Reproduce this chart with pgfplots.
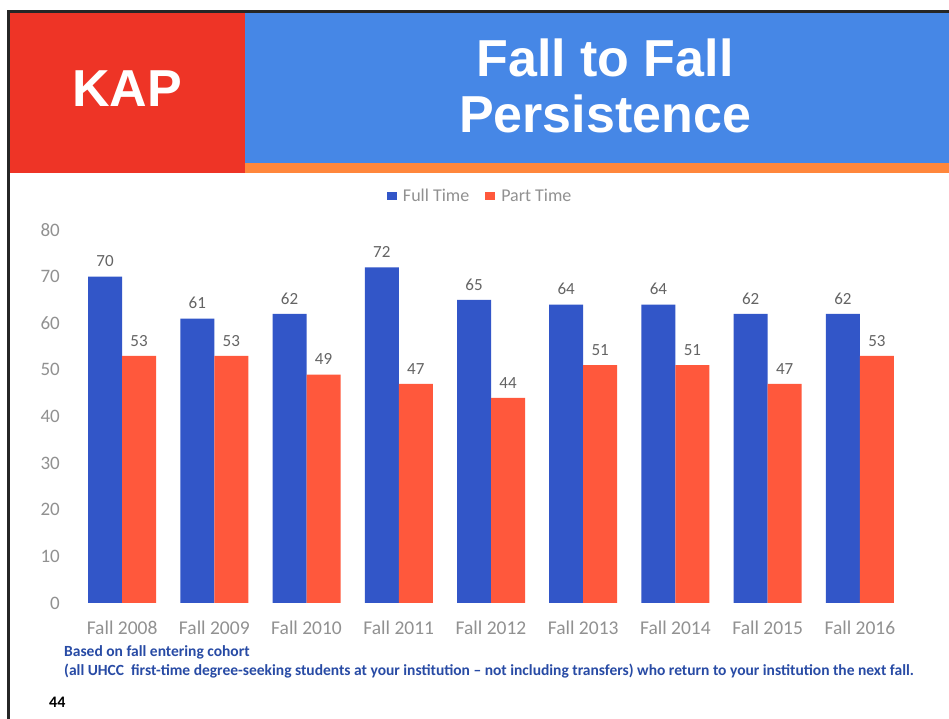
\documentclass[border=0pt]{standalone}
\usepackage{pgfplots}
\pgfplotsset{compat=1.18}
\usepackage{fontspec}
\setmainfont{Carlito}
\newfontfamily\arialf{Liberation Sans}
\definecolor{hdrred}{RGB}{238,52,38}
\definecolor{hdrblue}{RGB}{70,135,230}
\definecolor{hdrorange}{RGB}{255,135,60}
\definecolor{barblue}{RGB}{50,86,200}
\definecolor{barred}{RGB}{255,88,60}
\definecolor{ticgray}{RGB}{145,145,145}
\definecolor{labgray}{RGB}{100,100,100}
\definecolor{footblue}{RGB}{40,75,165}
\pgfplotstableread{
x full part
0 70 53
1 61 53
2 62 49
3 72 47
4 65 44
5 64 51
6 64 51
7 62 47
8 62 53
}\datatable
\begin{document}
\begin{tikzpicture}[x=1pt,y=1pt]
\path[use as bounding box] (0,0) rectangle (949,719);
\fill[white] (0,0) rectangle (949,719);
% frame
\fill[black!85] (8,706) rectangle (949,708.5);
\fill[black!85] (7,0) rectangle (10,708.5);
% header
\fill[hdrred] (10,546) rectangle (245,706);
\fill[hdrblue] (245,556) rectangle (949,706);
\fill[hdrorange] (245,546) rectangle (949,556);
\node[anchor=base, text=white, font=\arialf\bfseries\fontsize{52}{56}\selectfont, inner sep=0] at (127,612) {KAP};
\node[anchor=base, text=white, font=\arialf\bfseries\fontsize{52}{56}\selectfont, inner sep=0] at (605,642) {Fall to Fall};
\node[anchor=base, text=white, font=\arialf\bfseries\fontsize{52}{56}\selectfont, inner sep=0] at (605,586) {Persistence};
\begin{axis}[
  at={(76pt,116pt)}, anchor=south west,
  scale only axis, width=830pt, height=373pt,
  xmin=-0.5, xmax=8.5, ymin=0, ymax=80,
  ybar=0pt, bar width=34pt,
  xtick={0,...,8},
  xticklabels={Fall 2008,Fall 2009,Fall 2010,Fall 2011,Fall 2012,Fall 2013,Fall 2014,Fall 2015,Fall 2016},
  ytick={0,10,...,80},
  axis line style={draw=none},
  major tick style={draw=none},
  tick label style={text=ticgray},
  /pgf/number format/assume math mode=true,
  xticklabel style={inner sep=0pt, anchor=north, yshift=-13pt, font=\fontsize{19.5}{22}\selectfont},
  yticklabel style={inner sep=0pt, anchor=east, xshift=-16pt, font=\fontsize{19}{22}\selectfont},
  nodes near coords,
  every node near coord/.append style={text=labgray, font=\fontsize{17}{20}\selectfont, inner sep=0pt, anchor=south, yshift=9.5pt},
  legend style={at={(0.487,1.091)}, anchor=center, draw=none, fill=none, legend columns=2,
    font=\fontsize{18}{20}\selectfont, text=ticgray,
    /tikz/every even column/.append style={column sep=14pt}},
  legend image code/.code={\path[#1] (0pt,-4pt) rectangle (10pt,4pt); \path (14pt,0pt);},
]
\addplot[fill=barblue, draw=none] table[x=x,y=full]{\datatable};
\addplot[fill=barred, draw=none] table[x=x,y=part]{\datatable};
\legend{Full Time, Part Time}
\end{axis}
% footer
\node[anchor=base west, inner sep=0, text=footblue, font=\bfseries\fontsize{15.5}{18}\selectfont] at (64,62) {Based on fall entering cohort};
\node[anchor=base west, inner sep=0, text=footblue, font=\bfseries\fontsize{15.5}{18}\selectfont] at (64,43) {(all UHCC\ \ first-time degree-seeking students at your institution -- not including transfers) who return to your institution the next fall.};
\node[anchor=base west, inner sep=0, text=black, font=\bfseries\fontsize{16}{18}\selectfont] at (49,11) {44};
\end{tikzpicture}
\end{document}
